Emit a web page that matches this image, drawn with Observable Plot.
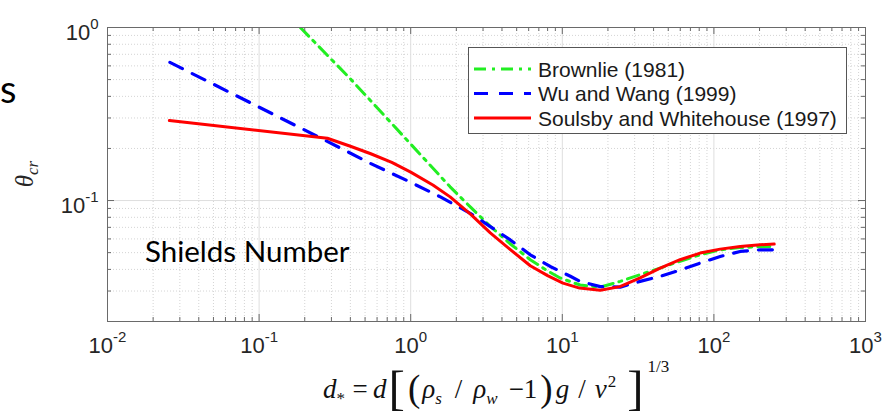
<!DOCTYPE html>
<html>
<head>
<meta charset="utf-8">
<script src="https://cdn.jsdelivr.net/npm/d3@7"></script>
<script src="https://cdn.jsdelivr.net/npm/@observablehq/plot@0.6"></script>
<style>
  body { margin: 0; background: #fff; }
  #chart { position: relative; width: 893px; height: 414px; overflow: hidden; }
</style>
</head>
<body>
<div id="chart"></div>
<script>
// ---------- data ----------
const seriesNames = ["Brownlie (1981)", "Wu and Wang (1999)", "Soulsby and Whitehouse (1997)"];

const brownlieX = [0.187, 0.4, 0.542, 1.0, 1.82, 2.5, 3.35, 4.5, 6.15, 8, 9.68, 13.1, 17.8, 24.1, 32.6, 44.2, 59.8, 81.1, 110, 149, 202, 250];
const brownlieY = [1.0, 0.505, 0.379, 0.212, 0.120, 0.091, 0.071, 0.0565, 0.0455, 0.0392, 0.0357, 0.0325, 0.0316, 0.0341, 0.0373, 0.0407, 0.0446, 0.0486, 0.0519, 0.0535, 0.0542, 0.0542];

const wuWangX = [0.0258, 0.333, 0.542, 0.99, 1.57, 2.47, 3.35, 4.54, 6.15, 8.32, 11.3, 13.1, 17.8, 24.1, 32.6, 44.2, 59.8, 81.1, 110, 149, 202, 250];
const wuWangY = [0.629, 0.204, 0.164, 0.128, 0.105, 0.0844, 0.0707, 0.0592, 0.0486, 0.0416, 0.0365, 0.0341, 0.0318, 0.0316, 0.0341, 0.0365, 0.0396, 0.0435, 0.0475, 0.0508, 0.0519, 0.0519];

const soulsbyX = [0.0256, 0.282, 0.4, 0.54, 0.75, 1.0, 1.4, 1.82, 2.5, 3.35, 4.5, 6.15, 8, 10.1, 13, 17.8, 24, 32.6, 44.2, 59.8, 81.1, 110, 149, 202, 250];
const soulsbyY = [0.290, 0.229, 0.206, 0.187, 0.166, 0.146, 0.123, 0.105, 0.083, 0.065, 0.0524, 0.042, 0.0368, 0.0333, 0.0312, 0.0303, 0.0318, 0.0357, 0.0407, 0.0455, 0.0497, 0.0524, 0.0542, 0.0555, 0.0560];

// axis ticks and labels
const xMajorTicks = [0.01, 0.1, 1, 10, 100, 1000];
const xTickExponents = ["-2", "-1", "0", "1", "2", "3"];
const yMajorTicks = [0.1, 1];
const yTickExponents = ["-1", "0"];
const xDomain = [0.01, 1000];
const yDomain = [0.02, 1];

// ---------- build table ----------
const toRows = (xs, ys, name) => xs.map((x, i) => ({x, y: ys[i], series: name}));
const brownlie = toRows(brownlieX, brownlieY, seriesNames[0]);
const wuWang = toRows(wuWangX, wuWangY, seriesNames[1]);
const soulsby = toRows(soulsbyX, soulsbyY, seriesNames[2]);

const xAll = d3.scaleLog().domain(xDomain).ticks();
const yAll = d3.scaleLog().domain(yDomain).ticks();
const xMinor = xAll.filter(v => !xMajorTicks.some(m => Math.abs(m - v) / m < 1e-9));
const yMinor = yAll.filter(v => !yMajorTicks.some(m => Math.abs(m - v) / m < 1e-9));

const W = 893, H = 414;
const mL = 107, mR = 28, mT = 27, mB = 93;
const frameW = W - mL - mR, frameH = H - mT - mB;

const gridMinor = {stroke: "#cfcfcf", strokeWidth: 0.9, strokeDasharray: "1,2"};
const gridMajor = {stroke: "#dedede", strokeWidth: 1};
const axisColor = "#6a6a6a";
const labelColor = "#262626";
const greenDash = "12,6,3,6";
const blueDash = "14,11";

const plot = Plot.plot({
  width: W,
  height: H,
  marginLeft: mL,
  marginRight: mR,
  marginTop: mT,
  marginBottom: mB,
  style: {fontFamily: "'Liberation Sans', Arial, sans-serif", fontSize: "22px", background: "#fff", color: labelColor},
  x: {type: "log", domain: xDomain, axis: null},
  y: {type: "log", domain: yDomain, axis: null},
  marks: [
    // grid
    Plot.ruleX(xMinor, {x: d => d, ...gridMinor}),
    Plot.ruleY(yMinor, {y: d => d, ...gridMinor}),
    Plot.ruleX(xMajorTicks.slice(1, -1), {x: d => d, ...gridMajor}),
    Plot.ruleY([0.1], {y: d => d, ...gridMajor}),
    // data
    Plot.line(brownlie, {x: "x", y: "y", stroke: "#22ee22", strokeWidth: 3, strokeDasharray: greenDash, clip: true}),
    Plot.line(wuWang, {x: "x", y: "y", stroke: "#0000ff", strokeWidth: 3.2, strokeDasharray: blueDash, clip: true}),
    Plot.line(soulsby, {x: "x", y: "y", stroke: "#ff0000", strokeWidth: 3, clip: true}),
    // frame
    Plot.frame({stroke: axisColor, strokeWidth: 1}),
    // ticks (inward, all four sides)
    Plot.ruleX(xMajorTicks, {x: d => d, stroke: axisColor, insetTop: frameH - 7}),
    Plot.ruleX(xMajorTicks, {x: d => d, stroke: axisColor, insetBottom: frameH - 7}),
    Plot.ruleX(xMinor, {x: d => d, stroke: axisColor, insetTop: frameH - 4}),
    Plot.ruleX(xMinor, {x: d => d, stroke: axisColor, insetBottom: frameH - 4}),
    Plot.ruleY(yMajorTicks, {y: d => d, stroke: axisColor, insetRight: frameW - 7}),
    Plot.ruleY(yMajorTicks, {y: d => d, stroke: axisColor, insetLeft: frameW - 7}),
    Plot.ruleY(yMinor, {y: d => d, stroke: axisColor, insetRight: frameW - 4}),
    Plot.ruleY(yMinor, {y: d => d, stroke: axisColor, insetLeft: frameW - 4}),
    // tick labels
    Plot.text(xMajorTicks, {x: d => d, text: (d, i) => "10^" + xTickExponents[i], frameAnchor: "bottom", dy: 31, fontSize: 22, fill: labelColor, textAnchor: "middle"}),
    Plot.text(yMajorTicks, {y: d => d, text: (d, i) => "10^" + yTickExponents[i], frameAnchor: "left", dx: -9, dy: 5, fontSize: 22, fill: labelColor, textAnchor: "end"})
  ]
});

document.getElementById("chart").appendChild(plot);

// ---------- post-processing: superscripts, labels, legend ----------
const svgNS = "http://www.w3.org/2000/svg";
plot.querySelectorAll("text").forEach(t => {
  const s = t.textContent;
  if (!s.includes("^")) return;
  const [base, exp] = s.split("^");
  t.textContent = "";
  const a = document.createElementNS(svgNS, "tspan");
  a.textContent = base;
  const b = document.createElementNS(svgNS, "tspan");
  b.textContent = exp;
  b.setAttribute("font-size", "15px");
  b.setAttribute("dy", "-11");
  t.appendChild(a); t.appendChild(b);
});

const svg = d3.select(plot);
const serif = "'Liberation Serif', 'Times New Roman', serif";

// y label theta_cr
const yl = svg.append("text")
  .attr("transform", `translate(33,${mT + frameH / 2}) rotate(-90)`)
  .attr("text-anchor", "middle")
  .attr("font-family", serif)
  .attr("fill", labelColor);
yl.append("tspan").attr("font-style", "italic").attr("font-size", 25).text("θ");
yl.append("tspan").attr("font-style", "italic").attr("font-size", 17).attr("dy", 5).text("cr");

// x label formula
const xl = svg.append("text")
  .attr("x", 323).attr("y", 398)
  .attr("text-anchor", "start")
  .attr("font-family", serif).attr("font-size", 27)
  .attr("fill", "#111");
const part = (txt, opts = {}) => {
  const t = xl.append("tspan").text(txt);
  if (opts.it) t.attr("font-style", "italic");
  if (opts.size) t.attr("font-size", opts.size);
  if (opts.dy) t.attr("dy", opts.dy);
  if (opts.dx) t.attr("dx", opts.dx);
  return t;
};
part("d", {it: true});
part("*", {size: 17, dy: 6});
part("\u2009=\u2009", {dy: -6, dx: 2});
part("d", {it: true});
part("[", {size: 49, dy: 6, dx: 2});
part("(", {size: 37, dy: -3, dx: 3});
part("ρ", {it: true, dy: -3, dx: 2});
part("s", {it: true, size: 17, dy: 6});
part("/", {dy: -6, dx: 13});
part("ρ", {it: true, dx: 11});
part("w", {it: true, size: 17, dy: 6});
part("\u2212", {dy: -6, dx: 11});
part("1");
part(")", {size: 37, dy: 3, dx: 3});
part("g", {it: true, dy: -3, dx: 3});
part("/", {dx: 9});
part("ν", {it: true, dx: 9});
part("2", {size: 17, dy: -11, dx: 1});
part("]", {size: 49, dy: 17, dx: 11});
part("1/3", {size: 17, dy: -32, dx: 4});

// annotation text (Calibri-like, black)
svg.append("text").attr("x", 145).attr("y", 262)
  .attr("text-anchor", "start")
  .attr("font-family", "Lato, 'Open Sans', sans-serif").attr("font-size", 29.5)
  .attr("fill", "#000").text("Shields Number");
svg.append("text").attr("x", 0).attr("y", 103).attr("text-anchor", "start")
  .attr("font-family", "Lato, 'Open Sans', sans-serif").attr("font-size", 38)
  .attr("fill", "#000").text("s");

// legend
const lg = svg.append("g").attr("font-family", "'Liberation Sans', Arial, sans-serif").attr("font-size", 21)
  .attr("text-anchor", "start");
lg.append("rect").attr("x", 468.5).attr("y", 47.5).attr("width", 378).attr("height", 86)
  .attr("fill", "#fff").attr("stroke", "#555").attr("stroke-width", 1);
const legendStyles = [
  {stroke: "#22ee22", dash: greenDash, w: 3},
  {stroke: "#0000ff", dash: blueDash, w: 3.2},
  {stroke: "#ff0000", dash: null, w: 3}
];
seriesNames.forEach((name, i) => {
  const cy = 69 + i * 24.5;
  const ln = lg.append("line").attr("x1", 474).attr("x2", 531).attr("y1", cy).attr("y2", cy)
    .attr("stroke", legendStyles[i].stroke).attr("stroke-width", legendStyles[i].w);
  if (legendStyles[i].dash) ln.attr("stroke-dasharray", legendStyles[i].dash);
  lg.append("text").attr("x", 538).attr("y", cy + 7.5).attr("fill", "#1a1a1a").text(name);
});
</script>
</body>
</html>
